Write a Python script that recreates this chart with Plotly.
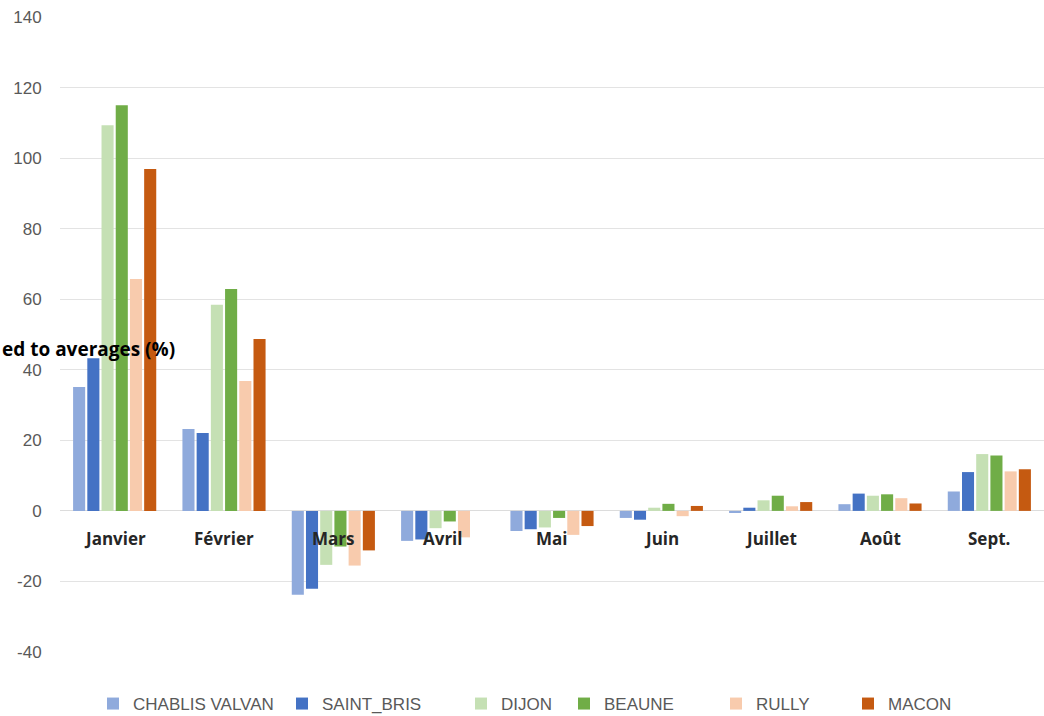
import plotly.graph_objects as go

# Monthly deviations from long-term averages (%) by station
months = ["Janvier", "Février", "Mars", "Avril", "Mai", "Juin", "Juillet", "Août", "Sept."]

chablis_valvan = [35.1, 23.2, -23.8, -8.5, -5.7, -2.0, -0.6, 1.9, 5.5]
saint_bris = [43.3, 22.1, -22.1, -8.1, -5.2, -2.5, 0.9, 4.9, 11.0]
dijon = [109.3, 58.4, -15.3, -4.9, -4.7, 0.9, 3.0, 4.3, 16.1]
beaune = [115.0, 62.9, -10.1, -3.0, -2.0, 2.0, 4.3, 4.7, 15.7]
rully = [65.7, 36.8, -15.5, -7.5, -6.8, -1.5, 1.3, 3.6, 11.2]
macon = [96.9, 48.7, -11.2, 0.0, -4.3, 1.4, 2.5, 2.1, 11.8]

series_names = ["CHABLIS VALVAN", "SAINT_BRIS", "DIJON", "BEAUNE", "RULLY", "MACON"]
series_values = [chablis_valvan, saint_bris, dijon, beaune, rully, macon]
series_colors = ["#8faadc", "#4472c4", "#c5e0b4", "#70ad47", "#f8cbad", "#c55a11"]

y_ticks = [-40, -20, 0, 20, 40, 60, 80, 100, 120, 140]
y_tick_text = [str(v) for v in y_ticks]

# Figure geometry (pixels)
W, H = 1044, 716
M_L, M_R, M_T, M_B = 60, 0, 17, 64
PW, PH = W - M_L - M_R, H - M_T - M_B

def px_x(x):
    return (x - M_L) / PW

def px_y(y):
    return 1 - (y - M_T) / PH

# left edge of each legend entry's swatch, in pixels
legend_swatch_x = [107, 296, 475, 578, 730, 862]
legend_ids = ["legend", "legend2", "legend3", "legend4", "legend5", "legend6"]

fig = go.Figure()
for name, vals, col, lid in zip(series_names, series_values, series_colors, legend_ids):
    fig.add_trace(go.Bar(
        x=months, y=vals, name=name, legend=lid,
        marker=dict(color=col, line=dict(width=0)),
    ))

legend_style = dict(
    orientation="h", xanchor="left", yanchor="middle",
    y=px_y(704), bgcolor="rgba(0,0,0,0)",
    font=dict(family="Liberation Sans", size=17, color="#595959"),
    itemwidth=30,
)
layout_legends = {}
for lid, sx in zip(legend_ids, legend_swatch_x):
    layout_legends[lid] = dict(legend_style, x=px_x(sx - 14))

# Month labels sit just under the zero line, over the bars
for m in months:
    fig.add_annotation(
        x=m, y=0, xref="x", yref="y", text=f"<b>{m}</b>",
        showarrow=False, yshift=-28,
        font=dict(family="Open Sans", size=17, color="#262626"),
    )

# Axis title (partly cut off at the left edge)
fig.add_annotation(
    x=px_x(0), y=px_y(349), xref="paper", yref="paper",
    text="<b>ed to averages (%)</b>",
    showarrow=False, xanchor="left", yanchor="middle",
    font=dict(family="Open Sans", size=19, color="#000000"),
)

fig.update_layout(
    width=W, height=H,
    margin=dict(l=M_L, r=M_R, t=M_T, b=M_B, autoexpand=False),
    paper_bgcolor="white", plot_bgcolor="white",
    barmode="group", bargap=0.22, bargroupgap=0.15,
    showlegend=True,
    xaxis=dict(
        showticklabels=False, showgrid=False, showline=False,
        zeroline=False, ticks="",
    ),
    yaxis=dict(
        range=[-40, 140], tickvals=y_ticks, ticktext=y_tick_text,
        showgrid=True, gridcolor="#e3e3e3", gridwidth=1,
        zeroline=True, zerolinecolor="#dcdcdc", zerolinewidth=1,
        showline=False, ticks="outside", ticklen=14, tickcolor="rgba(0,0,0,0)",
        tickfont=dict(family="Liberation Sans", size=17, color="#595959"),
    ),
    **layout_legends,
)

fig.write_html("out.html")
